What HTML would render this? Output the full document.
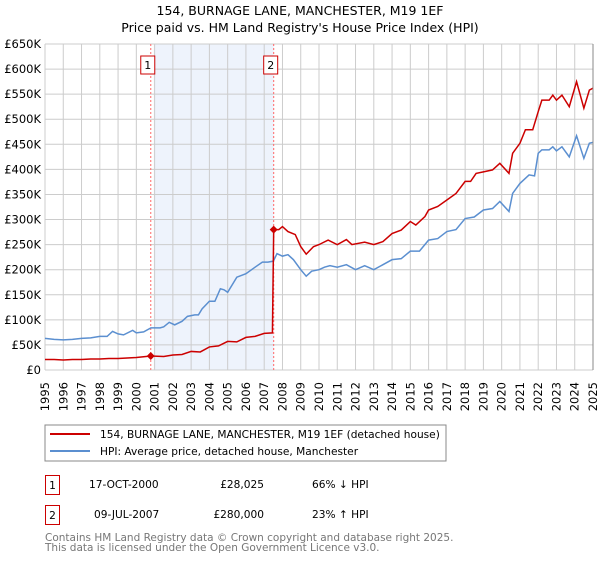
<!DOCTYPE html>
<html><head><meta charset="utf-8"><style>
body{margin:0;background:#fff;font-family:"DejaVu Sans","Liberation Sans",sans-serif;}
svg text{font-family:"DejaVu Sans","Liberation Sans",sans-serif;}
</style></head><body>
<svg id="chart" width="600" height="560" viewBox="0 0 600 560">
<text x="300" y="15" text-anchor="middle" font-size="12.5" fill="#000">154, BURNAGE LANE, MANCHESTER, M19 1EF</text>
<text x="300" y="32" text-anchor="middle" font-size="12.5" fill="#000">Price paid vs. HM Land Registry's House Price Index (HPI)</text>
<g id="plot"></g>
<rect x="45" y="425" width="401" height="36" fill="none" stroke="#888"/>
<line x1="50" y1="434" x2="90" y2="434" stroke="#cc0000" stroke-width="2"/>
<text x="100" y="438" font-size="10.6">154, BURNAGE LANE, MANCHESTER, M19 1EF (detached house)</text>
<line x1="50" y1="451" x2="90" y2="451" stroke="#5b8fd0" stroke-width="2"/>
<text x="100" y="455" font-size="10.6">HPI: Average price, detached house, Manchester</text>
<rect x="45.5" y="475.5" width="14" height="19" fill="none" stroke="#cc0000"/>
<text x="52.5" y="489" text-anchor="middle" font-size="10.6">1</text>
<text x="89" y="488" font-size="10.6">17-OCT-2000</text>
<text x="264" y="488" text-anchor="end" font-size="10.6">£28,025</text>
<text x="312" y="488" font-size="10.6">66% ↓ HPI</text>
<rect x="45.5" y="505.5" width="14" height="19" fill="none" stroke="#cc0000"/>
<text x="52.5" y="519" text-anchor="middle" font-size="10.6">2</text>
<text x="94" y="518" font-size="10.6">09-JUL-2007</text>
<text x="264" y="518" text-anchor="end" font-size="10.6">£280,000</text>
<text x="312" y="518" font-size="10.6">23% ↑ HPI</text>
<text x="45" y="541" font-size="10.5" fill="#777">Contains HM Land Registry data © Crown copyright and database right 2025.</text>
<text x="45" y="551" font-size="10.5" fill="#777">This data is licensed under the Open Government Licence v3.0.</text>
</svg>
<script>
const yTicks=[0,50,100,150,200,250,300,350,400,450,500,550,600,650];
const yTickLabels=["£0","£50K","£100K","£150K","£200K","£250K","£300K","£350K","£400K","£450K","£500K","£550K","£600K","£650K"];
const xYears=[1995,1996,1997,1998,1999,2000,2001,2002,2003,2004,2005,2006,2007,2008,2009,2010,2011,2012,2013,2014,2015,2016,2017,2018,2019,2020,2021,2022,2023,2024,2025];
const saleDates=[2000.79,2007.52];
const salePrices=[28,280];
const saleLabels=["1","2"];
const hpiDates=[1995,1995.5,1996,1996.5,1997,1997.5,1998,1998.4,1998.7,1999,1999.3,1999.8,2000,2000.4,2000.8,2001.3,2001.5,2001.8,2002.1,2002.5,2002.8,2003.2,2003.4,2003.6,2004,2004.3,2004.6,2004.8,2005,2005.5,2006,2006.5,2006.9,2007.2,2007.5,2007.7,2008,2008.3,2008.6,2009,2009.3,2009.6,2010,2010.3,2010.6,2011,2011.5,2012,2012.5,2013,2013.5,2014,2014.5,2015,2015.5,2016,2016.5,2017,2017.5,2018,2018.5,2019,2019.5,2019.9,2020.4,2020.6,2021,2021.5,2021.8,2022,2022.2,2022.6,2022.8,2023,2023.3,2023.7,2024.1,2024.5,2024.8,2025];
const hpiValues=[63,61,60,61,63,64,67,67,77,72,70,79,74,76,84,84,86,95,90,97,107,110,110,122,137,137,162,160,155,185,192,205,215,215,217,232,227,230,220,200,187,197,200,205,208,205,210,200,208,200,210,220,222,237,237,259,262,276,280,302,305,319,322,336,316,352,372,389,387,432,439,439,445,437,445,425,467,422,452,454];
const ppDates=[1995,1995.5,1996,1996.5,1997,1997.5,1998,1998.5,1999,1999.5,2000,2000.79,2001.5,2002,2002.5,2003,2003.5,2004,2004.5,2005,2005.5,2006,2006.5,2007,2007.45,2007.52,2007.8,2008,2008.3,2008.7,2009,2009.3,2009.7,2010,2010.5,2011,2011.5,2011.8,2012.5,2013,2013.5,2014,2014.5,2015,2015.3,2015.8,2016,2016.5,2017,2017.5,2018,2018.3,2018.6,2019,2019.5,2019.9,2020.4,2020.6,2021,2021.3,2021.7,2022,2022.2,2022.6,2022.8,2023,2023.3,2023.7,2024.1,2024.5,2024.8,2025];
const ppValues=[21,21,20,21,21,22,22,23,23,24,25,28,27,30,31,37,36,46,48,57,56,65,67,73,74,280,280,286,276,270,246,231,246,250,259,250,260,250,255,250,256,272,279,296,289,306,319,326,339,352,376,376,392,395,399,412,392,432,452,479,479,515,538,538,548,538,548,525,575,522,558,562];

const NS="http://www.w3.org/2000/svg";
const g=document.getElementById('plot');
const L=45,R=593,T=44,B=370;
const xs=y=>L+(y-1995)/(2025-1995)*(R-L);
const ys=v=>B-v/650*(B-T);
function mk(tag,attrs,parent){const e=document.createElementNS(NS,tag);for(const k in attrs)e.setAttribute(k,attrs[k]);(parent||g).appendChild(e);return e;}

let shade=mk('rect',{x:xs(saleDates[0])+3,y:T,width:xs(saleDates[1])-xs(saleDates[0])-3,height:B-T,fill:'#eef3fc'});



yTicks.forEach((v,i)=>{
  let l=mk('line',{x1:L,x2:R,y1:ys(v),y2:ys(v),stroke:'#ccc','stroke-width':1});
  
  
  let t=mk('text',{x:L-4,y:ys(v)+4,'text-anchor':'end','font-size':'11.5',fill:'#000'});
  t.textContent=yTickLabels[i];
  
  
});
xYears.forEach(yr=>{
  let l=mk('line',{x1:xs(yr),x2:xs(yr),y1:T,y2:B,stroke:'#ccc','stroke-width':1});
  
  
  const tx=xs(yr)+4, ty=B+12;
  let t=mk('text',{x:tx,y:ty,'text-anchor':'end','font-size':'11.5',fill:'#000',transform:'rotate(-90 '+tx+' '+ty+')'});
  t.textContent=yr;
  
  
});
saleDates.forEach((d,i)=>{
  let l=mk('line',{x1:xs(d),x2:xs(d),y1:T,y2:B,stroke:'#ff6666','stroke-width':1,'stroke-dasharray':'2,2'});
  
  
  let r=mk('rect',{x:xs(d)-10,y:56,width:14,height:18,fill:'#fff',stroke:'#cc0000'});
  
  
  let t=mk('text',{x:xs(d)-3,y:69,'text-anchor':'middle','font-size':'11'});
  t.textContent=saleLabels[i];
  
  
});
let hpi=mk('polyline',{points:hpiDates.map((d,i)=>xs(d)+','+ys(hpiValues[i])).join(' '),fill:'none',stroke:'#5b8fd0','stroke-width':1.5});


let pp=mk('polyline',{points:ppDates.map((d,i)=>xs(d)+','+ys(ppValues[i])).join(' '),fill:'none',stroke:'#cc0000','stroke-width':1.5});


saleDates.forEach((d,i)=>{
  let p=mk('polygon',{points:`${xs(d)},${ys(salePrices[i])-4} ${xs(d)+4},${ys(salePrices[i])} ${xs(d)},${ys(salePrices[i])+4} ${xs(d)-4},${ys(salePrices[i])}`,fill:'#cc0000'});
  
  
});
let ax=mk('line',{x1:R,x2:R,y1:T,y2:B,stroke:'#888'});


</script>
</body></html>
